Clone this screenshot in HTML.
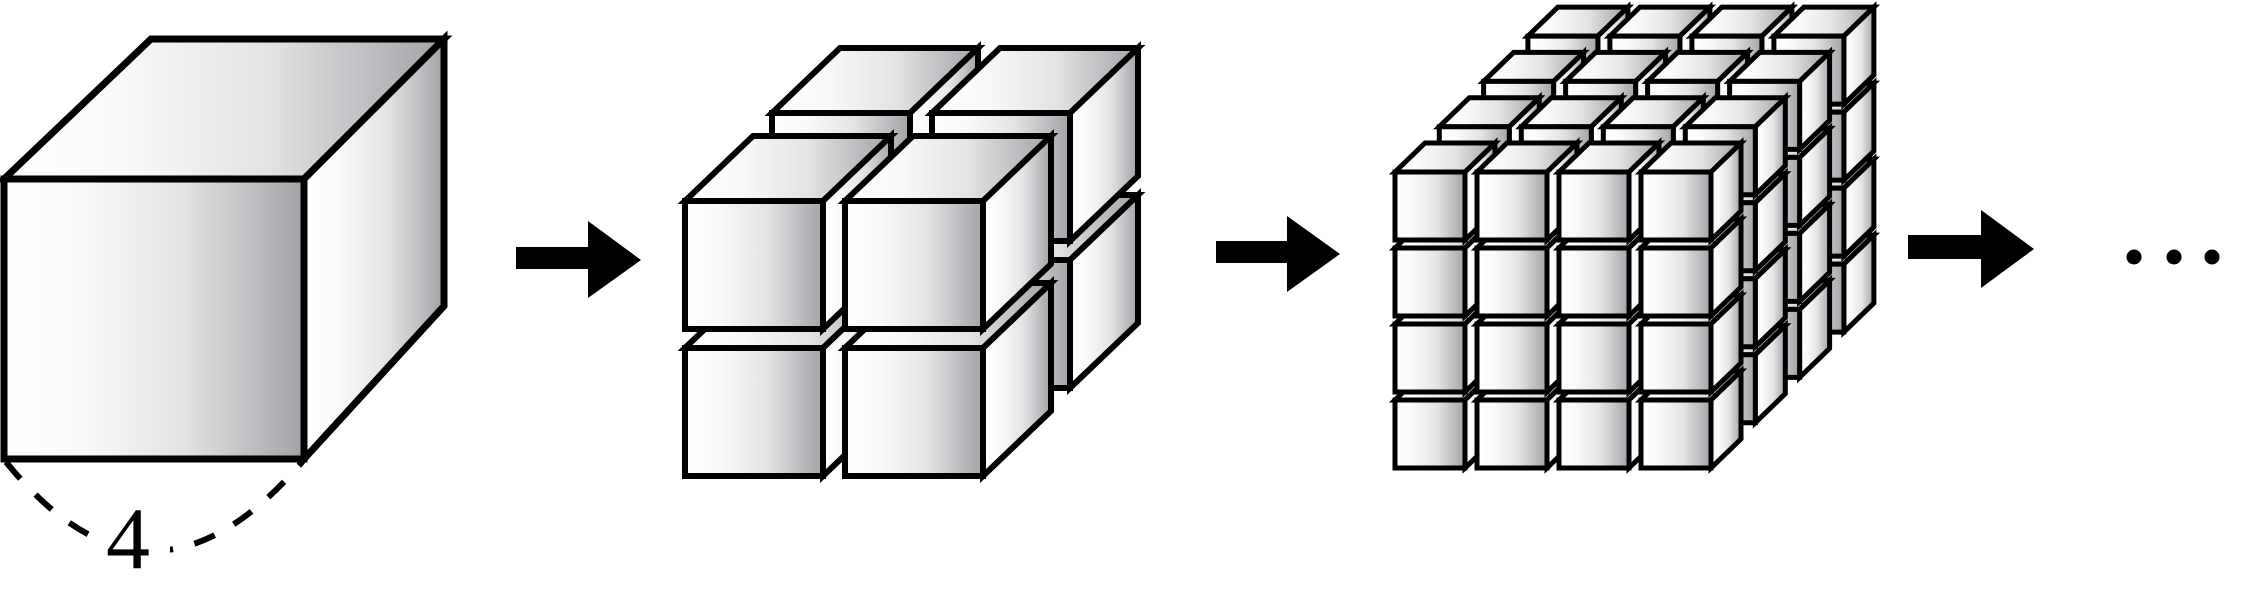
<!DOCTYPE html>
<html><head><meta charset="utf-8"><style>
html,body{margin:0;padding:0;background:#fff;}
svg{display:block;}
</style></head><body>
<svg id="s" width="2249" height="589" viewBox="0 0 2249 589" xmlns="http://www.w3.org/2000/svg">
<defs>
<linearGradient id="g" x1="0" y1="0" x2="1" y2="0">
<stop offset="0" stop-color="#ffffff"/><stop offset="0.25" stop-color="#f9fafa"/><stop offset="0.6" stop-color="#e2e3e4"/><stop offset="1" stop-color="#a2a3a7"/>
</linearGradient>
</defs>
<g stroke="#000" stroke-width="7" fill="url(#g)">
<polygon points="4,179 304,179 444,39 151,39"/>
<polygon points="304,179 444,39 444,306 304,459"/>
<polygon points="4,179 304,179 304,459 4,459"/>
</g>
<g id="c" stroke="#000" stroke-linejoin="miter" fill="url(#g)"></g>
<path d="M6,462 Q150,640 302,462" fill="none" stroke="#000" stroke-width="6" stroke-dasharray="22,22"/>
<rect x="92" y="500" width="78" height="85" fill="#fff"/>
<text x="128" y="568" font-family="Liberation Serif, serif" font-size="88" text-anchor="middle">4</text>
<polygon points="516,247 588,247 588,221 641,260 588,298 588,269 516,269" fill="#000"/>
<polygon points="1216,241 1287,241 1287,216 1340,254 1287,292 1287,263 1216,263" fill="#000"/>
<polygon points="1908,235 1981,235 1981,210 2034,249 1981,288 1981,259 1908,259" fill="#000"/>
<circle cx="2134" cy="257" r="7.5"/><circle cx="2174" cy="257" r="7.5"/><circle cx="2212" cy="257" r="7.5"/>
</svg>
<script>
var g=document.getElementById('c'),NS='http://www.w3.org/2000/svg';
function poly(p,sw){var e=document.createElementNS(NS,'polygon');e.setAttribute('points',p.map(function(a){return a.join(',')}).join(' '));e.setAttribute('stroke-width',sw);g.appendChild(e);}
function cube(x,y,w,h,dx,dy,sw){
poly([[x,y],[x+w,y],[x+w+dx,y+dy],[x+dx,y+dy]],sw);
poly([[x+w,y],[x+w+dx,y+dy],[x+w+dx,y+h+dy],[x+w,y+h]],sw);
poly([[x,y],[x+w,y],[x+w,y+h],[x,y+h]],sw);}
var L=[[87,-88],[0,0]];
L.forEach(function(o){[685,845].forEach(function(x){[348,201].forEach(function(y){cube(x+o[0],y+o[1],138,128,68,-65,6);});});});
for(var l=3;l>=0;l--){var ox=1395+l*44.3,oy=172-l*45.3;
for(var c=0;c<4;c++){for(var r=3;r>=0;r--){cube(ox+c*82,oy+r*76,70,68,30,-29,5);}}}
</script>
</body></html>
